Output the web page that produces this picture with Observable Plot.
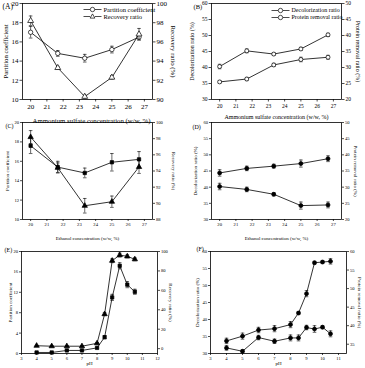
<!DOCTYPE html>
<html><head><meta charset="utf-8">
<script src="https://cdn.jsdelivr.net/npm/d3@7"></script>
<script src="https://cdn.jsdelivr.net/npm/@observablehq/plot@0.6"></script>
<style>
html,body{margin:0;padding:0;background:#fff;}
#root{position:relative;width:365px;height:368px;overflow:hidden;background:#fff;}
#root svg{position:absolute;}
</style></head><body><div id="root"></div>
<script>
// ---------- data ----------
const ammoniumConc = [20, 21.67, 23.33, 25, 26.67];
const ethanolConc = [20, 21.67, 23.33, 25, 26.67];
const pH = [4, 5, 6, 7, 8, 8.5, 9, 9.5, 10, 10.5];

const partitionA = [17.0, 14.8, 14.3, 15.2, 16.5];
const partitionAErr = [0.6, 0.3, 0.4, 0.35, 0.3];
const recoveryA = [98.2, 93.3, 90.3, 92.3, 96.8];
const recoveryAErr = [0.5, 0.15, 0.15, 0.2, 0.6];

const decolorB = [40.3, 45.2, 44.2, 45.8, 50.2];
const decolorBErr = [0.7, 0.6, 0.4, 0.5, 0.5];
const proteinB = [25.5, 26.4, 30.8, 32.5, 33.2];
const proteinBErr = [0.4, 0.5, 0.5, 0.7, 0.6];

const partitionC = [17.6, 15.4, 14.8, 15.9, 16.2];
const partitionCErr = [0.8, 0.6, 0.5, 0.9, 0.8];
const recoveryC = [98.2, 94.4, 89.7, 90.2, 94.5];
const recoveryCErr = [0.8, 0.6, 0.9, 0.7, 0.8];

const decolorD = [44.4, 45.8, 46.5, 47.3, 48.8];
const decolorDErr = [1.0, 0.7, 0.6, 1.1, 0.9];
const proteinD = [30.2, 29.3, 27.8, 24.3, 24.5];
const proteinDErr = [1.0, 0.7, 0.5, 1.1, 0.9];

const partitionE = [0.2, 0.2, 0.6, 0.6, 1.1, 3.2, 11.0, 17.2, 13.5, 12.1];
const partitionEErr = [0.1, 0.1, 0.1, 0.1, 0.15, 0.3, 0.6, 0.6, 0.6, 0.5];
const recoveryE = [3.0, 2.5, 2.5, 2.5, 5.5, 35.5, 90.5, 96.3, 95.0, 92.0];
const recoveryEErr = [0.5, 0.5, 0.5, 0.5, 0.8, 1.5, 2.0, 2.0, 1.5, 1.5];

const decolorF = [33.7, 35.1, 36.9, 37.3, 38.5, 41.9, 47.6, 56.7, 56.9, 57.1];
const decolorFErr = [0.8, 0.9, 0.8, 0.9, 0.9, 0.4, 0.9, 0.4, 0.4, 0.8];
const proteinF = [34.0, 33.1, 36.8, 35.8, 36.7, 36.7, 39.5, 39.1, 39.6, 37.8];
const proteinFErr = [0.6, 0.4, 0.6, 0.6, 0.8, 0.8, 0.6, 0.9, 0.4, 0.8];

// tick labels
const concTicks = [20, 21, 22, 23, 24, 25, 26, 27];
const pHTicksE = [3, 4, 5, 6, 7, 8, 9, 10, 11, 12];
const pHTicksF = [3, 4, 5, 6, 7, 8, 9, 10, 11];
const partitionTicks = [10, 12, 14, 16, 18, 20];
const recoveryTicksA = [90, 92, 94, 96, 98, 100];
const recoveryTicksC = [88, 90, 92, 94, 96, 98, 100];
const decolorTicks = [30, 35, 40, 45, 50, 55, 60];
const proteinTicks = [20, 25, 30, 35, 40, 45, 50];
const partitionTicksE = [0, 4, 8, 12, 16, 20];
const recoveryTicksE = [0, 20, 40, 60, 80, 100];
const proteinTicksF = [35, 40, 45, 50, 55, 60];

// ---------- helpers ----------
const cap = {draw(ctx) { ctx.moveTo(-1.8, 0); ctx.lineTo(1.8, 0); }};
function legendSym(shape) {
  return {draw(ctx) {
    ctx.moveTo(-9, 0); ctx.lineTo(-2.4, 0);
    ctx.moveTo(2.4, 0); ctx.lineTo(9, 0);
    if (shape === "circle") { ctx.moveTo(2.2, 0); ctx.arc(0, 0, 2.2, 0, 2 * Math.PI); }
    else { ctx.moveTo(0, -2.6); ctx.lineTo(2.4, 1.6); ctx.lineTo(-2.4, 1.6); ctx.closePath(); }
  }};
}

function panel(c) {
  const toL = d3.scaleLinear().domain(c.rightDomain).range(c.leftDomain);
  const marks = [Plot.frame({stroke: "black", strokeWidth: 0.8})];
  for (const s of c.series) {
    const conv = s.right ? toL : (v => v);
    const rows = s.x.map((x, i) => ({x, y: conv(s.y[i]), lo: conv(s.y[i] - s.e[i]), hi: conv(s.y[i] + s.e[i])}));
    marks.push(
      Plot.ruleX(rows, {x: "x", y1: "lo", y2: "hi", stroke: "black", strokeWidth: 0.6}),
      Plot.dot(rows, {x: "x", y: "lo", symbol: cap, stroke: "black", strokeWidth: 0.6, r: 2}),
      Plot.dot(rows, {x: "x", y: "hi", symbol: cap, stroke: "black", strokeWidth: 0.6, r: 2}),
      Plot.line(rows, {x: "x", y: "y", stroke: "black", strokeWidth: 0.8}),
      Plot.dot(rows, {x: "x", y: "y", symbol: s.symbol, r: s.r, fill: s.fill, stroke: "black", strokeWidth: 0.7})
    );
  }
  const tf = c.tickFont;
  const T = {textAnchor: "middle", lineAnchor: "middle", fontSize: c.titleFont, fill: "black"};
  marks.push(
    Plot.axisX(c.xTicks, {tickSize: c.tickSize, tickPadding: c.xPad ?? 1.5, fontSize: tf, tickFormat: d => String(d), label: null, strokeWidth: 0.7}),
    Plot.axisY(c.leftTicks, {anchor: "left", tickSize: c.tickSize, tickPadding: 1.5, fontSize: tf, tickFormat: d => String(d), label: null, strokeWidth: 0.7}),
    Plot.axisY(c.rightTicks.map(toL), {anchor: "right", tickSize: c.tickSize, tickPadding: 1.5, fontSize: tf, tickFormat: d => String(Math.round(toL.invert(d))), label: null, strokeWidth: 0.7}),
    Plot.text([c.xTitle], {...T, frameAnchor: "bottom", dx: c.xTitleDx ?? 0, dy: c.xTitleDy}),
    Plot.text([c.leftTitle], {...T, frameAnchor: "left", dx: c.leftTitleDx, rotate: -90}),
    Plot.text([c.rightTitle], {...T, frameAnchor: "right", dx: c.rightTitleDx, rotate: 90}),
    Plot.text([c.tag], {frameAnchor: "top-left", dx: c.tagDx, dy: c.tagDy, textAnchor: "start", lineAnchor: "middle", fontSize: c.tagFont})
  );
  if (c.legend) {
    c.legend.forEach((L, i) => {
      marks.push(
        Plot.dot([0], {frameAnchor: "top-left", dx: c.legendDx, dy: c.legendDy + i * c.legendGap, symbol: legendSym(L.shape), r: 2, fill: "white", stroke: "black", strokeWidth: 0.7}),
        Plot.text([L.label], {frameAnchor: "top-left", dx: c.legendDx + 11, dy: c.legendDy + i * c.legendGap, textAnchor: "start", lineAnchor: "middle", fontSize: c.legendFont})
      );
    });
  }
  const svg = Plot.plot({
    width: c.w, height: c.h,
    marginLeft: c.ml, marginRight: c.mr, marginTop: c.mt, marginBottom: c.mb,
    x: {domain: c.xDomain},
    y: {domain: c.leftDomain},
    style: {fontFamily: "'Liberation Serif', 'DejaVu Serif', serif", background: "transparent", overflow: "visible", color: "black"},
    marks
  });
  svg.style.left = c.left + "px";
  svg.style.top = c.top + "px";
  document.getElementById("root").appendChild(svg);
}

const bigA = {tickFont: 7, titleFont: 6.8, tagFont: 7.5, tickSize: 2.5, xPad: 2.5};
const midB = {tickFont: 5.5, titleFont: 6, tagFont: 6.5, tickSize: 2.5, xPad: 2.5};
const small = {tickFont: 4.6, titleFont: 5, tagFont: 6, tickSize: 2};

panel({...bigA, left: 0, top: 0, w: 182, h: 121, ml: 22, mr: 30, mt: 3, mb: 22,
  xDomain: [19.5, 27.5], xTicks: concTicks, leftDomain: [10, 20], rightDomain: [90, 100],
  leftTicks: partitionTicks, rightTicks: recoveryTicksA,
  xTitle: "Ammonium sulfate concentration (w/w, %)", xTitleDx: 4, xTitleDy: 21,
  leftTitle: "Partition coefficient", leftTitleDx: -17,
  rightTitle: "Recovery ratio (%)", rightTitleDx: 21,
  tag: "(A)", tagDx: -20, tagDy: 3,
  legend: [{shape: "circle", label: "Partition coefficient"}, {shape: "triangle", label: "Recovery ratio"}],
  legendDx: 70, legendDy: 6, legendGap: 7, legendFont: 6.5,
  series: [
    {x: ammoniumConc, y: partitionA, e: partitionAErr, symbol: "circle", r: 2.2, fill: "white"},
    {x: ammoniumConc, y: recoveryA, e: recoveryAErr, symbol: "triangle", r: 2.2, fill: "white", right: true}
  ]});

panel({...midB, left: 182, top: 0, w: 183, h: 121, ml: 29, mr: 24, mt: 3, mb: 22,
  xDomain: [19.5, 27.5], xTicks: concTicks, leftDomain: [30, 60], rightDomain: [20, 50],
  leftTicks: decolorTicks, rightTicks: proteinTicks,
  xTitle: "Ammonium sulfate concentration (w/w, %)", xTitleDy: 18,
  leftTitle: "Decolorization ratio (%)", leftTitleDx: -19,
  rightTitle: "Protein removal ratio (%)", rightTitleDx: 16,
  tag: "(B)", tagDx: -18, tagDy: 3,
  legend: [{shape: "circle", label: "Decolorization ratio"}, {shape: "circle", label: "Protein removal ratio"}],
  legendDx: 69, legendDy: 7, legendGap: 7, legendFont: 6,
  series: [
    {x: ammoniumConc, y: decolorB, e: decolorBErr, symbol: "circle", r: 2, fill: "white"},
    {x: ammoniumConc, y: proteinB, e: proteinBErr, symbol: "circle", r: 2, fill: "white", right: true}
  ]});

panel({...small, left: 0, top: 121, w: 182, h: 122, ml: 22, mr: 30, mt: 1, mb: 24,
  xDomain: [19.5, 27.5], xTicks: concTicks, leftDomain: [10, 20], rightDomain: [88, 100],
  leftTicks: partitionTicks, rightTicks: recoveryTicksC,
  xTitle: "Ethanol concentration (w/w, %)", xTitleDy: 19,
  leftTitle: "Partition coefficient", leftTitleDx: -15,
  rightTitle: "Recovery ratio (%)", rightTitleDx: 21,
  tag: "(C)", tagDx: -17, tagDy: 4,
  series: [
    {x: ethanolConc, y: partitionC, e: partitionCErr, symbol: "square", r: 1.9, fill: "black"},
    {x: ethanolConc, y: recoveryC, e: recoveryCErr, symbol: "triangle", r: 2, fill: "black", right: true}
  ]});

panel({...small, left: 182, top: 121, w: 183, h: 122, ml: 29, mr: 24, mt: 1, mb: 24,
  xDomain: [19.5, 27.5], xTicks: concTicks, leftDomain: [30, 60], rightDomain: [20, 50],
  leftTicks: decolorTicks, rightTicks: proteinTicks,
  xTitle: "Ethanol concentration (w/w, %)", xTitleDy: 19,
  leftTitle: "Decolorization ratio (%)", leftTitleDx: -16,
  rightTitle: "Protein removal ratio (%)", rightTitleDx: 14,
  tag: "(D)", tagDx: -19, tagDy: 5,
  series: [
    {x: ethanolConc, y: decolorD, e: decolorDErr, symbol: "circle", r: 2, fill: "black"},
    {x: ethanolConc, y: proteinD, e: proteinDErr, symbol: "circle", r: 2, fill: "black", right: true}
  ]});

panel({...small, left: 0, top: 243, w: 182, h: 125, ml: 21, mr: 25, mt: 8, mb: 15,
  xDomain: [3, 12], xTicks: pHTicksE, leftDomain: [0, 20], rightDomain: [-5, 100],
  leftTicks: partitionTicksE, rightTicks: recoveryTicksE,
  xTitle: "pH", xTitleDy: 10,
  leftTitle: "Partition coefficient", leftTitleDx: -11,
  rightTitle: "Recovery ratio (%)", rightTitleDx: 13,
  tag: "(E)", tagDx: -17, tagDy: -1,
  series: [
    {x: pH, y: partitionE, e: partitionEErr, symbol: "square", r: 1.9, fill: "black"},
    {x: pH, y: recoveryE, e: recoveryEErr, symbol: "triangle", r: 2, fill: "black", right: true}
  ]});

panel({...small, left: 182, top: 243, w: 183, h: 125, ml: 28, mr: 19, mt: 8, mb: 15,
  xDomain: [3, 11.5], xTicks: pHTicksF, leftDomain: [30, 60], rightDomain: [32.5, 60],
  leftTicks: decolorTicks, rightTicks: proteinTicksF,
  xTitle: "pH", xTitleDy: 10,
  leftTitle: "Decolorization ratio (%)", leftTitleDx: -13,
  rightTitle: "Protein removal ratio (%)", rightTitleDx: 13,
  tag: "(F)", tagDx: -14, tagDy: -2,
  series: [
    {x: pH, y: decolorF, e: decolorFErr, symbol: "circle", r: 2, fill: "black"},
    {x: pH, y: proteinF, e: proteinFErr, symbol: "circle", r: 2, fill: "black", right: true}
  ]});
</script></body></html>
